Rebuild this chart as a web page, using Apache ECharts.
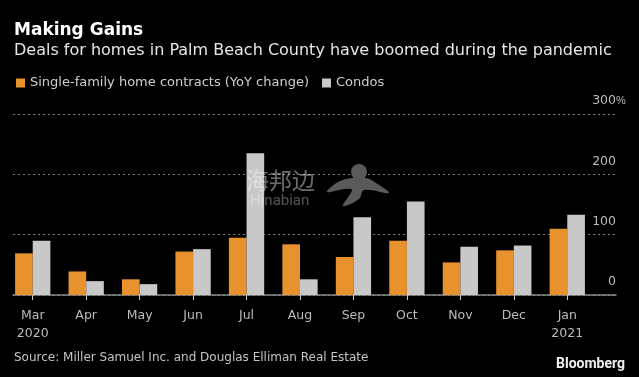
<!DOCTYPE html>
<html>
<head>
<meta charset="utf-8">
<script src="https://cdn.jsdelivr.net/npm/echarts@6/dist/echarts.min.js"></script>
<style>
  html, body { margin: 0; padding: 0; background: #000; }
  #chart { width: 639px; height: 377px; }
</style>
</head>
<body>
<div id="chart"></div>
<script>
const months = ['Mar\n2020', 'Apr', 'May', 'Jun', 'Jul', 'Aug', 'Sep', 'Oct', 'Nov', 'Dec', 'Jan\n2021'];
const singleFamily = [69, 39, 26, 72, 95, 84, 63, 90, 54, 74, 110];
const condos = [90, 23, 18, 76, 235, 26, 129, 155, 80, 82, 133];
const yTicks = [0, 100, 200, 300];

const FONT = 'DejaVu Sans';
const ORANGE = '#e8922e';
const GREY = '#c8c8c8';

const chart = echarts.init(document.getElementById('chart'), null, { renderer: 'canvas' });
chart.setOption({
  backgroundColor: '#000',
  animation: false,
  title: [
    { text: 'Making Gains', left: 14, top: 21, textStyle: { color: '#fff', fontFamily: FONT, fontWeight: 'bold', fontSize: 17, lineHeight: 20 }, padding: 0 },
    { text: 'Deals for homes in Palm Beach County have boomed during the pandemic', left: 14, top: 41, textStyle: { color: '#e6e6e6', fontFamily: FONT, fontWeight: 'normal', fontSize: 16, lineHeight: 20 }, padding: 0 }
  ],
  legend: {
    left: 16, top: 75, padding: 0, itemWidth: 9, itemHeight: 9, itemGap: 13, icon: 'rect',
    textStyle: { color: '#cfcfcf', fontFamily: FONT, fontSize: 13, lineHeight: 16 },
    data: ['Single-family home contracts (YoY change)', 'Condos']
  },
  grid: [
    { left: 6, right: 45, top: 114, bottom: 82 },
    { left: 13, right: 23, top: 114, bottom: 82 }
  ],
  xAxis: [
    {
      gridIndex: 0, type: 'category', data: months,
      axisLine: { show: false },
      axisTick: { show: true, alignWithLabel: true, length: 5, lineStyle: { color: '#cccccc' } },
      axisLabel: { color: '#bcbcbc', fontFamily: FONT, fontSize: 12.5, lineHeight: 17.5, margin: 12 }
    },
    {
      gridIndex: 1, type: 'value', min: 0, max: 1,
      axisLine: { show: true, lineStyle: { color: '#8a8a8a', width: 1.5 } },
      axisTick: { show: false }, axisLabel: { show: false }, splitLine: { show: false }
    }
  ],
  yAxis: [
    { gridIndex: 0, type: 'value', min: 0, max: 300, show: false },
    {
      gridIndex: 1, type: 'value', min: 0, max: 300, interval: 100, position: 'right',
      axisLine: { show: false }, axisTick: { show: false },
      splitLine: { lineStyle: { color: '#7a7a7a', type: [2, 3], width: 1 } },
      axisLabel: {
        inside: true, margin: 0, color: '#bcbcbc', fontFamily: FONT, fontSize: 12.5,
        verticalAlign: 'bottom', lineHeight: 26,
        formatter: v => yTicks.includes(v) ? String(v) : ''
      }
    }
  ],
  series: [
    { name: 'Single-family home contracts (YoY change)', type: 'bar', xAxisIndex: 0, yAxisIndex: 0, data: singleFamily, itemStyle: { color: ORANGE }, barGap: 0, barCategoryGap: '34%' },
    { name: 'Condos', type: 'bar', xAxisIndex: 0, yAxisIndex: 0, data: condos, itemStyle: { color: GREY }, barGap: 0, barCategoryGap: '34%' }
  ],
  graphic: [
    { type: 'text', left: 616, top: 95, style: { text: '%', fill: '#bcbcbc', font: '11px "Liberation Sans"' } },
    { type: 'text', left: 14, top: 352, style: { text: 'Source: Miller Samuel Inc. and Douglas Elliman Real Estate', fill: '#c4c4c4', font: '12px "DejaVu Sans"' } },
    { type: 'text', right: 14, top: 357, style: { text: 'Bloomberg', fill: '#f0f0f0', font: 'bold 14px Roboto' } },
    // watermark
    { type: 'text', left: 246, top: 169, z: 10, style: { text: '海邦边', fill: 'rgba(255,255,255,0.42)', font: '23px "Noto Sans CJK SC"' } },
    { type: 'text', left: 250, top: 194, z: 10, style: { text: 'Hinabian', fill: 'rgba(255,255,255,0.32)', font: '15px Roboto' } },
    { type: 'circle', z: 10, shape: { cx: 359, cy: 172, r: 8 }, style: { fill: '#5a5a5a' } },
    { type: 'polygon', z: 10, shape: { smooth: 0.35, points: [[352, 178], [338, 182], [327, 192], [345, 189], [352, 190], [343, 206], [359, 199], [364, 190], [389, 193], [373, 181], [366, 178]] }, style: { fill: '#5a5a5a' } }
  ]
});
</script>
</body>
</html>
